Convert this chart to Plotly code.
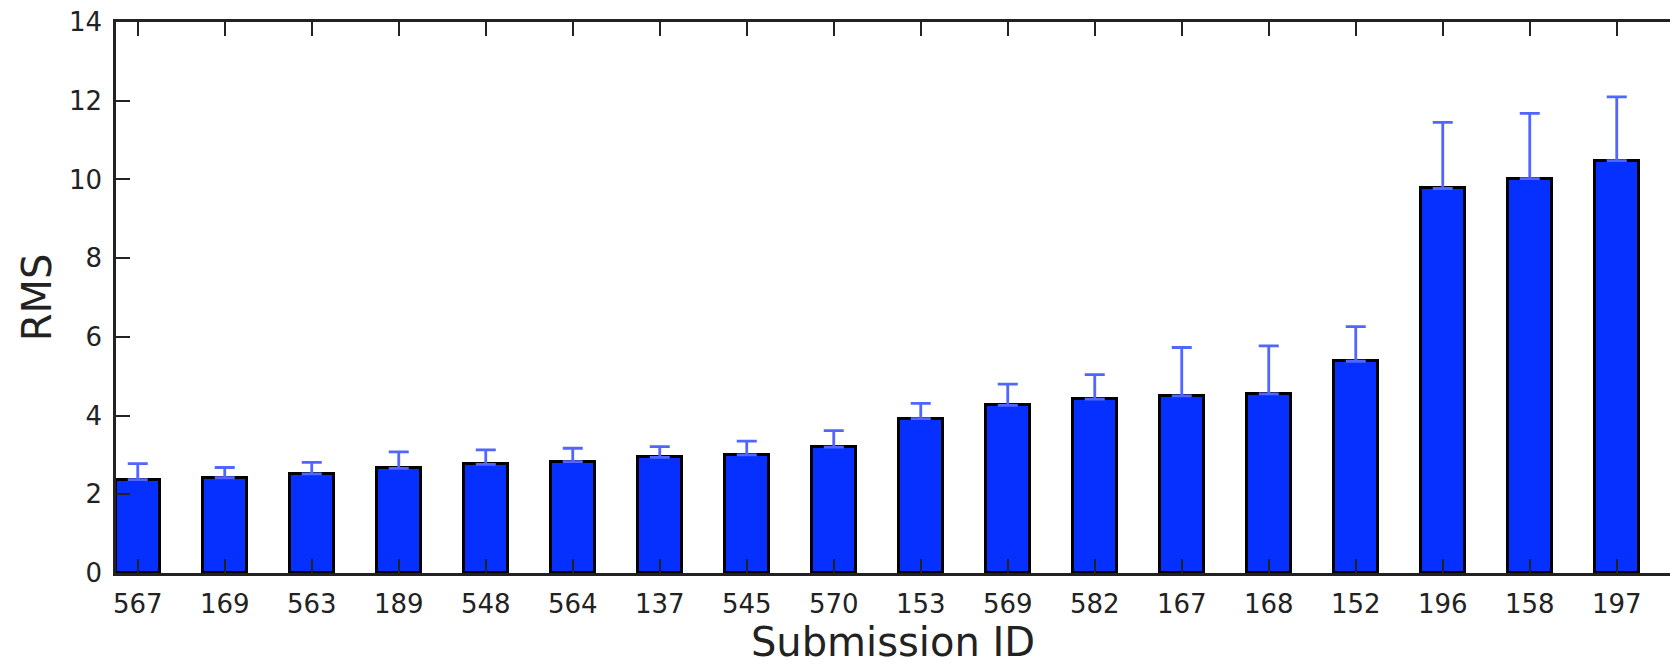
import plotly.graph_objects as go

# Data
submission_ids = ["567", "169", "563", "189", "548", "564", "137", "545", "570",
                  "153", "569", "582", "167", "168", "152", "196", "158", "197"]
rms_values = [2.37, 2.42, 2.52, 2.66, 2.76, 2.83, 2.94, 3.00, 3.20,
              3.92, 4.26, 4.42, 4.50, 4.55, 5.38, 9.77, 10.02, 10.48]
rms_errors = [0.41, 0.26, 0.29, 0.42, 0.37, 0.34, 0.27, 0.35, 0.42,
              0.39, 0.54, 0.62, 1.23, 1.22, 0.88, 1.68, 1.66, 1.62]
y_ticks = [0, 2, 4, 6, 8, 10, 12, 14]

positions = [i + 0.25 for i in range(len(submission_ids))]

W, H = 1670, 666
ML, MT, MB, MR = 116, 22, 93, 0
px_per_cat = 87.0
x_max = (W - ML - MR) / px_per_cat

font_family = "DejaVu Sans, Verdana, sans-serif"

fig = go.Figure()
fig.add_trace(go.Bar(
    x=positions,
    y=rms_values,
    width=0.5,
    marker=dict(color="#0530ff", line=dict(color="black", width=3)),
    error_y=dict(type="data", array=rms_errors, arrayminus=[0] * len(rms_errors),
                 symmetric=False, color="#5066ff", thickness=2.8, width=10),
    showlegend=False,
))

fig.update_layout(
    width=W, height=H,
    margin=dict(l=ML, r=MR, t=MT, b=MB, pad=0),
    plot_bgcolor="white", paper_bgcolor="white",
    font=dict(family=font_family, color="#222222"),
    bargap=0,
    xaxis=dict(
        range=[0, x_max],
        tickmode="array", tickvals=positions, ticktext=submission_ids,
        ticks="inside", ticklen=14, tickwidth=2, tickcolor="#222222",
        showline=True, linecolor="#222222", linewidth=2.5, mirror="ticks",
        showgrid=False, zeroline=False,
        tickfont=dict(size=26, color="#222222"),
        ticklabelstandoff=6,
        title=dict(text="Submission ID", font=dict(size=40, color="#222222"), standoff=4),
    ),
    yaxis=dict(
        range=[0, 14],
        tickmode="array", tickvals=y_ticks, ticktext=[str(v) for v in y_ticks],
        ticks="inside", ticklen=14, tickwidth=2, tickcolor="#222222",
        showline=True, linecolor="#222222", linewidth=2.5,
        showgrid=False, zeroline=False,
        tickfont=dict(size=26, color="#222222"),
        ticklabelstandoff=6, ticklabeloverflow="allow",
        title=dict(text="RMS", font=dict(size=40, color="#222222"), standoff=5),
    ),
    annotations=[dict(
        text="Submission RMS", xref="paper", yref="paper",
        x=(894 - ML) / (W - ML - MR), y=1 + (MT - 10) / (H - MT - MB),
        xanchor="center", yanchor="bottom", showarrow=False,
        font=dict(size=34, color="#222222", family=font_family),
    )],
)

# remove the browser's default 8px body margin so the figure fills the window
fig.write_html("out.html", config={"displayModeBar": False},
               post_script="document.body.style.margin='0';")
